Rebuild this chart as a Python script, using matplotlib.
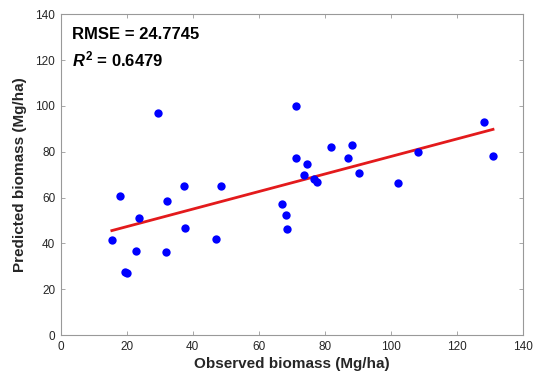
import numpy as np
import matplotlib
matplotlib.use("Agg")
import matplotlib.pyplot as plt

plt.rcParams['font.family'] = ['Liberation Sans', 'DejaVu Sans']
plt.rcParams['mathtext.fontset'] = 'custom'
plt.rcParams['mathtext.it'] = 'Liberation Sans:italic:bold'
plt.rcParams['mathtext.rm'] = 'Liberation Sans:bold'
plt.rcParams['mathtext.bf'] = 'Liberation Sans:bold'

observed = [15.5, 17.9, 19.6, 20.1, 22.8, 23.8, 29.6, 31.8, 32.2, 37.5, 37.7, 47.1, 48.6,
            67.0, 68.2, 68.5, 71.2, 71.2, 73.8, 74.5, 76.9, 77.7, 81.9, 87.2, 88.3, 90.3,
            102.1, 108.2, 128.3, 131.0]
predicted = [41.4, 60.6, 27.5, 26.9, 36.7, 51.2, 96.8, 36.4, 58.5, 65.2, 46.6, 42.1, 64.9,
             57.3, 52.4, 46.1, 99.9, 77.3, 69.9, 74.7, 68.1, 66.8, 82.1, 77.4, 82.8, 70.6,
             66.3, 79.8, 92.9, 78.0]
fit_intercept = 39.65
fit_slope = 0.3826
xticks = [0, 20, 40, 60, 80, 100, 120, 140]
yticks = [0, 20, 40, 60, 80, 100, 120, 140]

fig = plt.figure(figsize=(5.36, 3.83), dpi=100)
ax = fig.add_axes([60.7/536, 1-335/383, 462/536, 320.7/383])

ax.scatter(observed, predicted, s=36, color='#0000ff', zorder=3, linewidths=0)
xs = np.array([min(observed), max(observed)])
ax.plot(xs, fit_intercept + fit_slope*xs, color='#e31a1c', lw=2.0, zorder=2)

ax.set_xlim(0, 140)
ax.set_ylim(0, 140)
ax.set_xticks(xticks)
ax.set_yticks(yticks)
ax.tick_params(direction='in', top=True, right=True, length=3, width=0.6,
               color='#999999', labelsize=8.5, labelcolor='#262626', pad=4)
for s in ax.spines.values():
    s.set_color('#999999')
    s.set_linewidth(0.8)

ax.set_xlabel('Observed biomass (Mg/ha)', fontsize=11, fontweight='bold', color='#262626', labelpad=3)
ax.set_ylabel('Predicted biomass (Mg/ha)', fontsize=11, fontweight='bold', color='#262626', labelpad=6)

ax.text(3.3, 131.4, 'RMSE = 24.7745', fontsize=12, fontweight='bold', va='center', ha='left')
ax.text(3.3, 120.1, r'$\mathit{R}^{\mathrm{2}}$' + ' = 0.6479', fontsize=12, fontweight='bold',
        va='center', ha='left')

fig.savefig('out.png', dpi=100)
